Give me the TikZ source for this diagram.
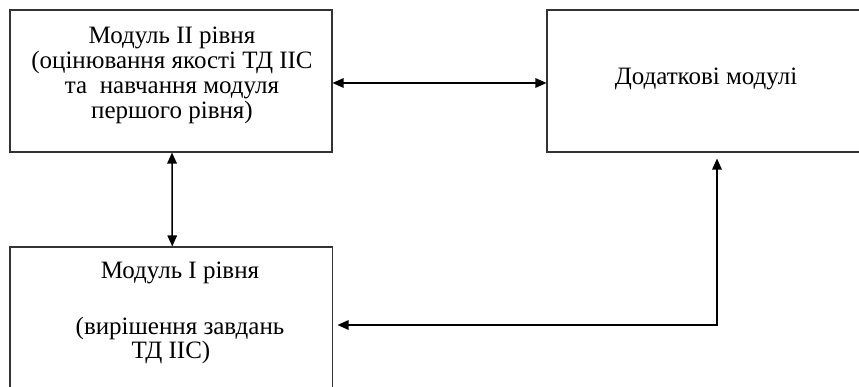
\documentclass[tikz,border=0pt]{standalone}
\usepackage{fontspec}
\setmainfont{Liberation Serif}
\usetikzlibrary{arrows.meta,calc}
\newcommand\myboxfont{\fontsize{25}{25}\selectfont\setlength{\lineskiplimit}{-100pt}}
\begin{document}
\begin{tikzpicture}[x=1pt,y=1pt,
  box/.style={draw=black!80,line width=1.1pt,rectangle,inner sep=0pt},
  txt/.style={align=center,inner sep=0pt,anchor=base,font=\myboxfont},
  arr/.style={line width=1.5pt,black,{Triangle[length=11pt,width=9.5pt]}-{Triangle[length=11pt,width=9.5pt]}}]
\useasboundingbox (0,0) rectangle (859,387);
\clip (0,0) rectangle (859,387);
% boxes
\node[box,minimum width=322pt,minimum height=142pt] (A) at (171,306) {};
\node[box,minimum width=322.5pt,minimum height=170pt] (B) at (171.25,55) {};
\node[box,minimum width=333pt,minimum height=142pt] (C) at (713.5,306) {};
% texts (base anchor = baseline of the last line)
\node[txt] (tA) at (172,268.7) {Модуль ІІ рівня\\(оцінювання якості ТД ІІС\\та\ \ навчання модуля\\першого рівня)};
\node[txt] (tB) at (180,28.7) {Модуль І рівня\\[31.7pt](вирішення завдань\\[-1.7pt]ТД ІІС)\kern18pt\mbox{}};
\node[txt] (tC) at (706,302) {Додаткові модулі};
% connectors
\draw[arr] ([yshift=-2pt]A.east) -- ([yshift=-2pt]C.west);
\draw[arr] ([xshift=1pt]A.south) -- ([xshift=1pt]B.north);
\coordinate (K) at (717,62);
\coordinate (Bt) at ([xshift=4.5pt]B.east);
\coordinate (Ct) at ([yshift=-6pt]C.south);
\draw[arr,line join=miter] (Bt |- K) -- (K) -- (K |- Ct);
\end{tikzpicture}
\end{document}
